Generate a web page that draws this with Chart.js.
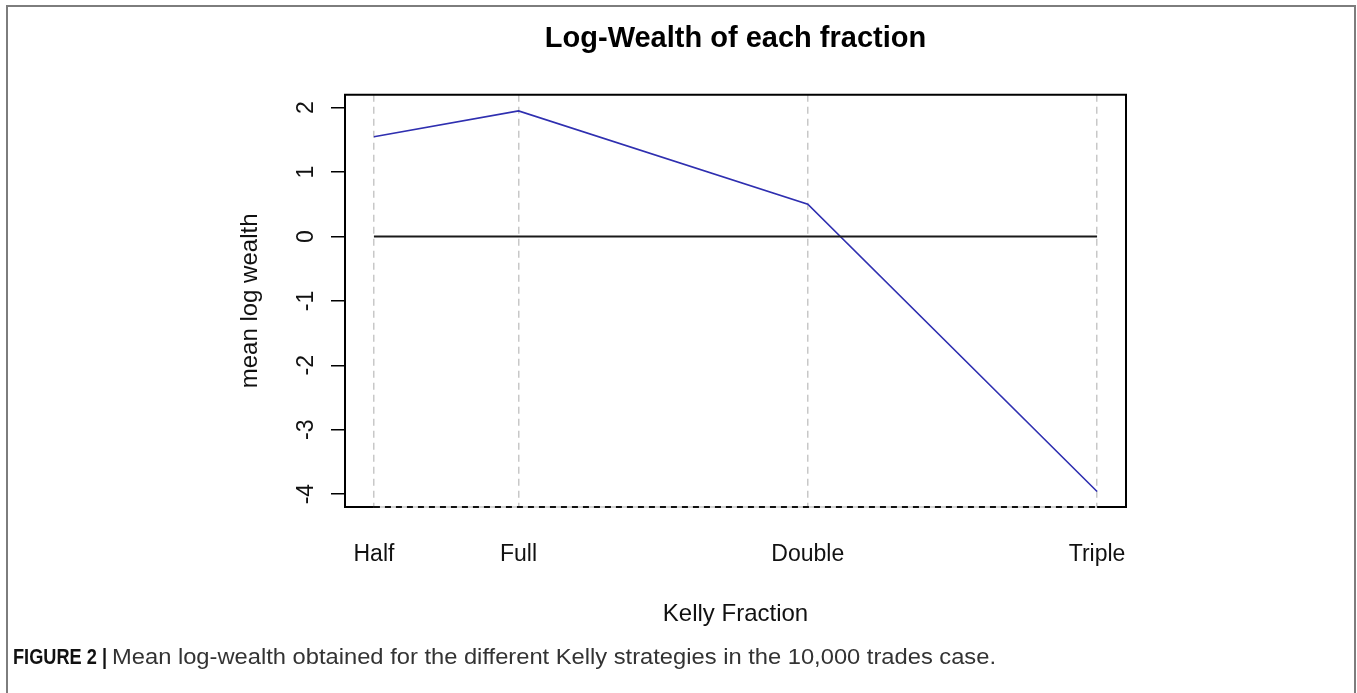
<!DOCTYPE html>
<html>
<head>
<meta charset="utf-8">
<title>Log-Wealth of each fraction</title>
<script src="https://cdn.jsdelivr.net/npm/chart.js@4.4.1/dist/chart.umd.min.js"></script>
<style>
  html, body { margin: 0; padding: 0; background: #fff; }
  #wrap { width: 1357px; height: 693px; }
</style>
</head>
<body>
<div id="wrap"><canvas id="grafico" width="1357" height="693"></canvas></div>
<script>
// Datos
const fracciones = ['Half', 'Full', 'Double', 'Triple'];
const posiciones = [0.5, 1, 2, 3];
const logRiqueza = [1.55, 1.95, 0.5, -3.96];
const ticksY = [-4, -3, -2, -1, 0, 1, 2];
const limitesX = [0.4, 3.1];
const limitesY = [-4.2, 2.2];
const lineaCero = [0, 0];
const lineaBase = [-4.2, -4.2];

const fuente = 'Liberation Sans, Arial, sans-serif';
const extremos = [posiciones[0], posiciones[posiciones.length - 1]];

// Marco, etiquetas rotadas del eje Y y pie de figura
const marco = {
  id: 'marco',
  beforeDatasetsDraw(chart) {
    const { ctx, chartArea: a, scales } = chart;
    const x0 = scales.x.getPixelForValue(extremos[0]);
    const x1 = scales.x.getPixelForValue(extremos[1]);
    ctx.save();
    ctx.strokeStyle = '#000';
    ctx.lineWidth = 2;
    ctx.beginPath();
    ctx.moveTo(x0, a.bottom);
    ctx.lineTo(a.left, a.bottom);
    ctx.lineTo(a.left, a.top);
    ctx.lineTo(a.right, a.top);
    ctx.lineTo(a.right, a.bottom);
    ctx.lineTo(x1, a.bottom);
    ctx.stroke();
    ctx.strokeStyle = '#c4c4c4';
    ctx.lineWidth = 1.5;
    ctx.beginPath();
    ctx.moveTo(x0, a.bottom);
    ctx.lineTo(x1, a.bottom);
    ctx.stroke();

    ctx.fillStyle = '#111';
    ctx.font = '23px ' + fuente;
    ctx.textAlign = 'center';
    ctx.textBaseline = 'alphabetic';
    ticksY.forEach(v => {
      const y = scales.y.getPixelForValue(v);
      ctx.save();
      ctx.translate(313, y);
      ctx.rotate(-Math.PI / 2);
      ctx.fillText(String(v), 0, 0);
      ctx.restore();
    });
    ctx.restore();
  },
  afterDraw(chart) {
    const ctx = chart.ctx;
    ctx.save();
    ctx.strokeStyle = '#7d7d7d';
    ctx.lineWidth = 2;
    ctx.beginPath();
    ctx.moveTo(7, 700);
    ctx.lineTo(7, 6);
    ctx.lineTo(1355, 6);
    ctx.lineTo(1355, 700);
    ctx.stroke();

    // pie de figura con letra estrecha
    ctx.textBaseline = 'alphabetic';
    ctx.textAlign = 'left';
    ctx.fillStyle = '#111';
    ctx.font = 'bold 22px ' + fuente;
    let t = 'FIGURE 2 |';
    let w = ctx.measureText(t).width;
    ctx.save();
    ctx.translate(13, 664);
    ctx.scale(94 / w, 1);
    ctx.fillText(t, 0, 0);
    ctx.restore();

    ctx.fillStyle = '#333';
    ctx.font = '22px ' + fuente;
    t = 'Mean log-wealth obtained for the different Kelly strategies in the 10,000 trades case.';
    w = ctx.measureText(t).width;
    ctx.translate(112, 664);
    ctx.scale(884 / w, 1);
    ctx.fillText(t, 0, 0);
    ctx.restore();
  }
};

const ctx = document.getElementById('grafico').getContext('2d');
const grafico = new Chart(ctx, {
  type: 'line',
  data: {
    datasets: [
      {
        label: 'cero',
        data: extremos.map((x, i) => ({ x: x, y: lineaCero[i] })),
        borderColor: '#1a1a1a',
        borderWidth: 2,
        pointRadius: 0
      },
      {
        label: 'mean log wealth',
        data: posiciones.map((x, i) => ({ x: x, y: logRiqueza[i] })),
        borderColor: '#2f2fb0',
        borderWidth: 1.6,
        pointRadius: 0
      },
      {
        label: 'base',
        data: extremos.map((x, i) => ({ x: x, y: lineaBase[i] })),
        borderColor: '#111',
        borderWidth: 2,
        borderDash: [6, 5],
        pointRadius: 0,
        clip: false
      }
    ]
  },
  options: {
    responsive: false,
    animation: false,
    layout: { padding: { left: 0, right: 231, top: 0, bottom: 0 } },
    plugins: {
      legend: { display: false },
      tooltip: { enabled: false },
      title: {
        display: true,
        fullSize: false,
        text: 'Log-Wealth of each fraction',
        color: '#000',
        font: { family: fuente, size: 29, weight: 'bold' },
        padding: { top: 22, bottom: 38 }
      }
    },
    scales: {
      x: {
        type: 'linear',
        min: limitesX[0],
        max: limitesX[1],
        afterBuildTicks: s => { s.ticks = posiciones.map(v => ({ value: v })); },
        afterFit: s => { s.height = 186; },
        grid: { color: '#c8c8c8', lineWidth: 1.5, drawTicks: false },
        border: { display: false, dash: [7, 5] },
        ticks: {
          callback: (v, i) => fracciones[i],
          color: '#111',
          font: { family: fuente, size: 23 },
          padding: 34,
          maxRotation: 0,
          autoSkip: false
        },
        title: {
          display: true,
          text: 'Kelly Fraction',
          color: '#111',
          font: { family: fuente, size: 24 },
          padding: { top: 0, bottom: 64 }
        }
      },
      y: {
        min: limitesY[0],
        max: limitesY[1],
        afterBuildTicks: s => { s.ticks = ticksY.map(v => ({ value: v })); },
        afterFit: s => { s.width = 345; },
        grid: { drawOnChartArea: false, color: '#000', lineWidth: 1.5, tickLength: 14 },
        border: { display: false },
        ticks: { display: false },
        title: {
          display: true,
          text: 'mean log wealth',
          color: '#111',
          font: { family: fuente, size: 24 },
          padding: { top: 236, bottom: 0 }
        }
      }
    }
  },
  plugins: [marco]
});
</script>
</body>
</html>
